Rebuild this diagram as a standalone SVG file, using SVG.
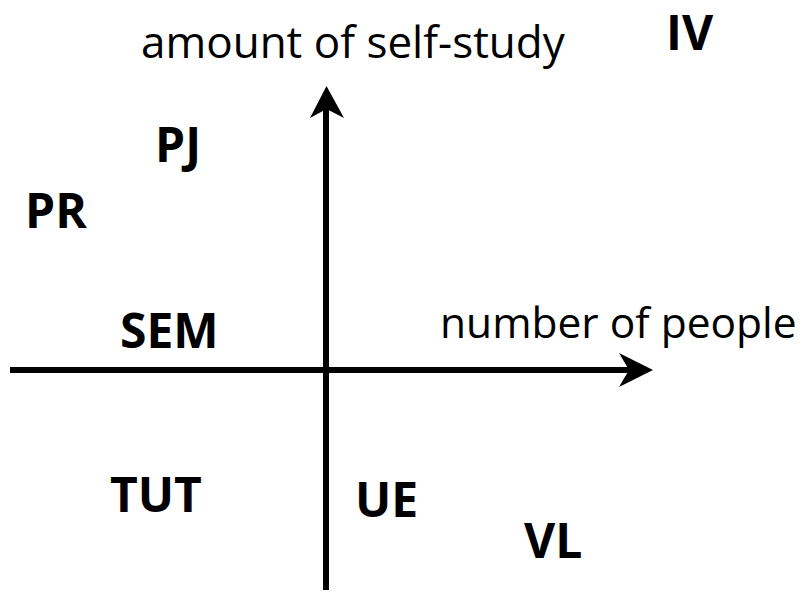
<svg xmlns="http://www.w3.org/2000/svg" width="807" height="593" viewBox="0 0 807 593">
<style>
.ax{font-family:"Open Sans","Noto Sans","Liberation Sans",sans-serif;font-size:44px;fill:#000}
.ax2{font-family:"Open Sans","Noto Sans","Liberation Sans",sans-serif;font-size:42.5px;fill:#000}
.lb{font-family:"Open Sans","Noto Sans","Liberation Sans",sans-serif;font-size:48px;font-weight:bold;fill:#000}
.ln{stroke:#000;stroke-width:6;fill:none}
.hd{fill:#000;stroke:none}
</style>
<rect width="807" height="593" fill="#fff"/>
<g id="connectors">
<line class="ln" x1="10" y1="370" x2="640" y2="370"/>
<path class="hd" d="M653,370 L619,353 L629,370 L619,387 Z"/>
<line class="ln" x1="326" y1="590" x2="326" y2="100"/>
<path class="hd" d="M326.5,86 L310,118 L326.5,109 L344,118 Z"/>
</g>
<g id="y-axis-label"><text class="ax" x="141" y="58">amount of self-study</text></g>
<g id="x-axis-label"><text class="ax2" x="440" y="338">number of people</text></g>
<g id="IV"><text class="lb" x="666" y="50">IV</text></g>
<g id="PJ"><text class="lb" x="155" y="162">PJ</text></g>
<g id="PR"><text class="lb" x="25" y="228">PR</text></g>
<g id="SEM"><text class="lb" x="120" y="348">SEM</text></g>
<g id="TUT"><text class="lb" x="110" y="512">TUT</text></g>
<g id="UE"><text class="lb" x="355" y="517">UE</text></g>
<g id="VL"><text class="lb" x="524" y="558">VL</text></g>
</svg>
